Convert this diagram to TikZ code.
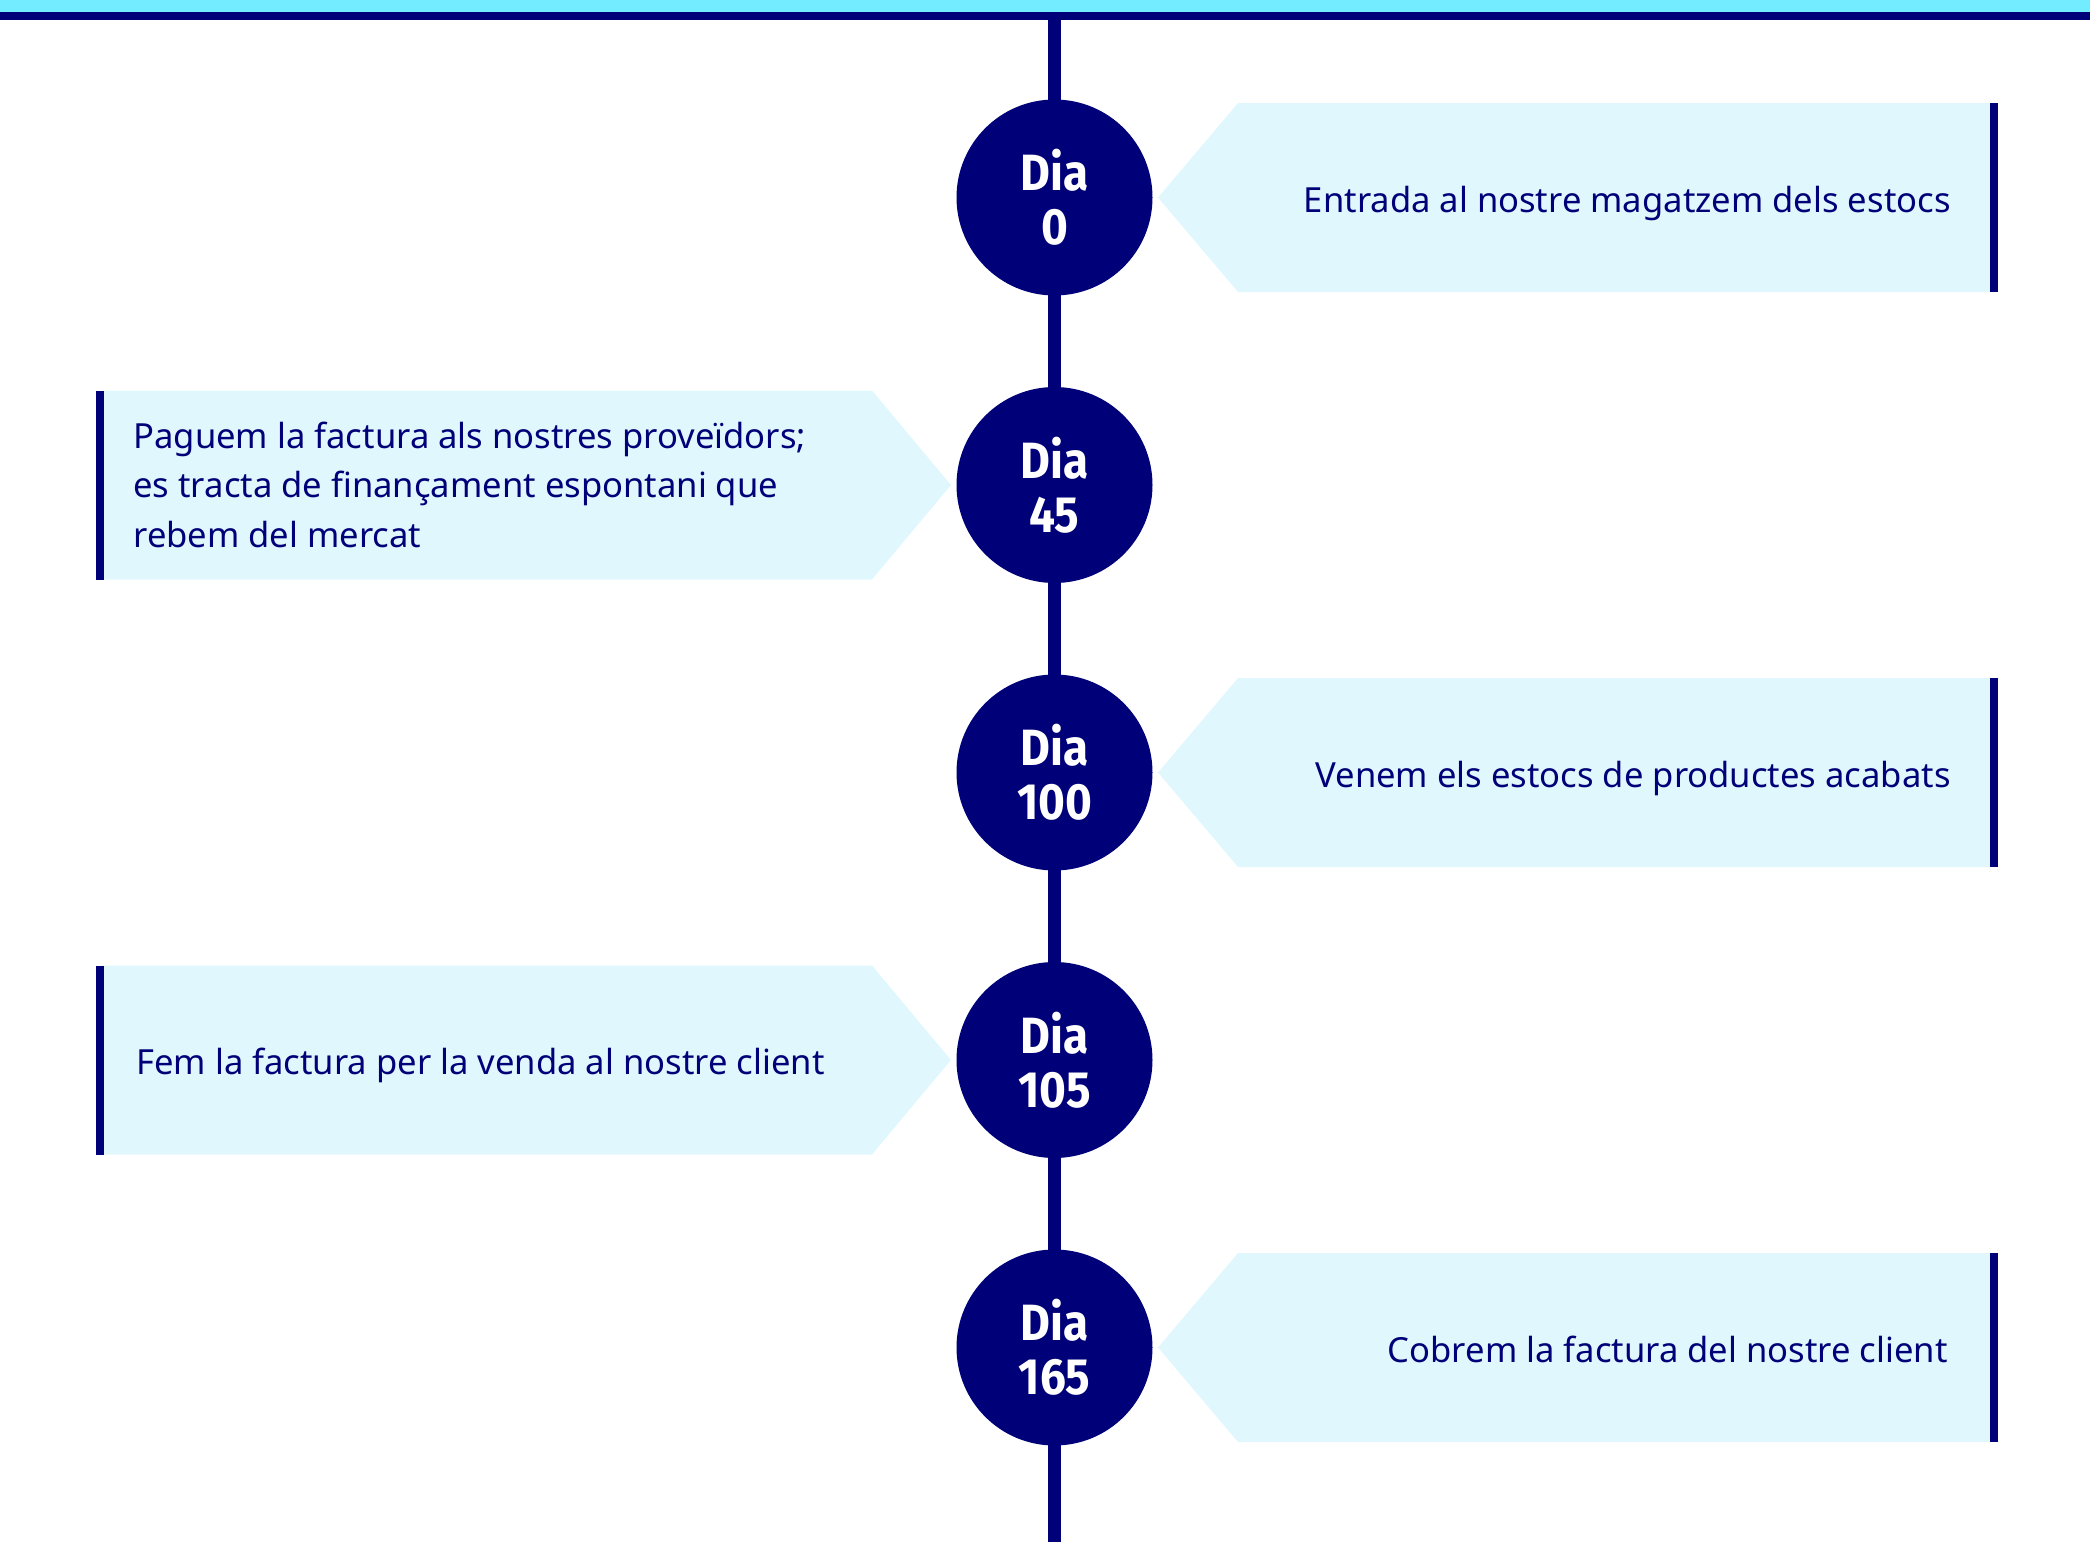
\documentclass[tikz,border=0pt]{standalone}
\usepackage{fontspec}
\setmainfont{Noto Sans}
\newfontfamily\dayfont[FakeStretch=0.9]{Fira Sans}
\definecolor{navy}{RGB}{0,0,120}
\definecolor{topcyan}{RGB}{115,236,255}
\definecolor{boxfill}{RGB}{224,248,253}
\begin{document}
\begin{tikzpicture}[x=0.5pt,y=-0.5pt,
  day/.style={circle,fill=navy,minimum size=98pt,inner sep=0pt,text=white,
    font=\dayfont\bfseries\fontsize{25.5}{27}\selectfont,align=center},
  note/.style={text=navy,font=\fontsize{17.3}{24.75}\selectfont,inner sep=0pt},
  panel/.style={fill=boxfill},
  edgebar/.style={draw=navy,line width=4pt},
  spine/.style={draw=navy,line width=6.5pt}]
\useasboundingbox (0,0) rectangle (2090,1542);
\fill[topcyan] (0,0) rectangle (2090,12);
\fill[navy] (0,12) rectangle (2090,20);
\coordinate (top) at (1054.5,20);
\coordinate (bottom) at (1054.5,1542);
\draw[spine] (top) -- (bottom);
% right panels
\fill[panel] (1158,197.5) -- (1238,103) -- (1990,103) -- (1990,292) -- (1238,292) -- cycle;
\draw[edgebar] (1994,103) -- (1994,292);
\fill[panel] (1158,772.5) -- (1238,678) -- (1990,678) -- (1990,867) -- (1238,867) -- cycle;
\draw[edgebar] (1994,678) -- (1994,867);
\fill[panel] (1158,1347.5) -- (1238,1253) -- (1990,1253) -- (1990,1442) -- (1238,1442) -- cycle;
\draw[edgebar] (1994,1253) -- (1994,1442);
% left panels
\fill[panel] (951,485) -- (872,390.5) -- (103,390.5) -- (103,579.5) -- (872,579.5) -- cycle;
\draw[edgebar] (99.5,390.5) -- (99.5,579.5);
\fill[panel] (951,1060) -- (872,965.5) -- (103,965.5) -- (103,1154.5) -- (872,1154.5) -- cycle;
\draw[edgebar] (99.5,965.5) -- (99.5,1154.5);
% day circles
\node[day] (d0) at (1054.5,197.5) {Dia\\0};
\node[day] (d1) at (1054.5,485) {Dia\\45};
\node[day] (d2) at (1054.5,772.5) {Dia\\100};
\node[day] (d3) at (1054.5,1060) {Dia\\105};
\node[day] (d4) at (1054.5,1347.5) {Dia\\165};
% texts
\node[note,anchor=base east] (t0) at (1951,212.5) {Entrada al nostre magatzem dels estocs};
\node[note,anchor=base west,align=left] (t1) at (133,547) {Paguem la factura als nostres proveïdors;\\es tracta de finançament espontani que\\rebem del mercat};
\node[note,anchor=base east] (t2) at (1951,787.5) {Venem els estocs de productes acabats};
\node[note,anchor=base west] (t3) at (136,1074) {Fem la factura per la venda al nostre client};
\node[note,anchor=base east] (t4) at (1948,1362.5) {Cobrem la factura del nostre client};
\end{tikzpicture}
\end{document}
